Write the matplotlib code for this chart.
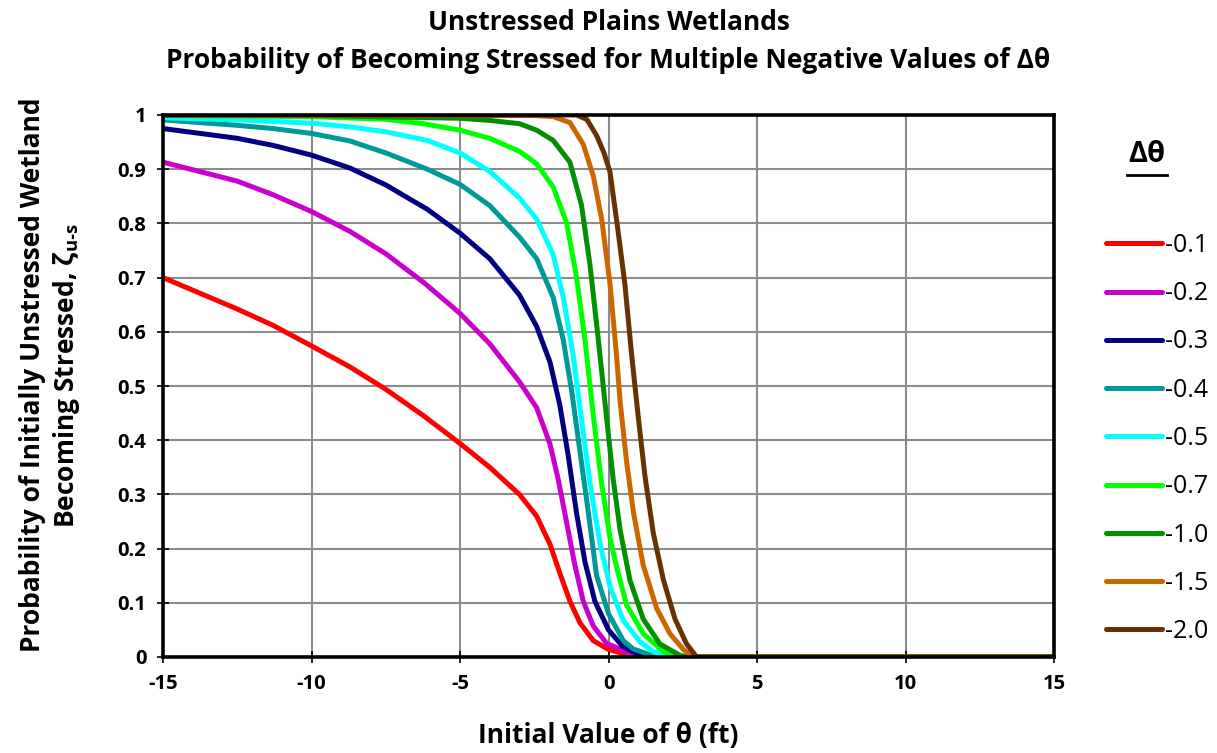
import numpy as np
import matplotlib
matplotlib.use("Agg")
import matplotlib.pyplot as plt
from matplotlib.lines import Line2D

plt.rcParams['font.family'] = ['Open Sans', 'DejaVu Sans']
plt.rcParams['mathtext.fontset'] = 'custom'
plt.rcParams['mathtext.rm'] = 'Open Sans:bold'
plt.rcParams['mathtext.bf'] = 'Open Sans:bold'
plt.rcParams['mathtext.default'] = 'bf'
plt.rcParams['axes.unicode_minus'] = False

# values
labels = ["-0.1", "-0.2", "-0.3", "-0.4", "-0.5", "-0.7", "-1.0", "-1.5", "-2.0"]
colors = ["#ff0000", "#cc00cc", "#000080", "#009999", "#00ffff",
          "#00ff00", "#009000", "#cc6600", "#663300"]

x_red = [-15, -12.5, -11.3, -10, -8.7, -7.5, -6.25, -5, -4, -3, -2.42, -1.97, -1.64, -1.30, -0.96, -0.51, 0, 0.5, 1.0, 2.0, 15]
y_red = [0.70, 0.642, 0.612, 0.574, 0.535, 0.494, 0.446, 0.394, 0.350, 0.30, 0.26, 0.208, 0.155, 0.103, 0.063, 0.03, 0.014, 0.006, 0.002, 0.0, 0.0]

x_mag = [-15, -12.5, -11.3, -10, -8.7, -7.5, -6.2, -5, -4, -3, -2.42, -1.97, -1.69, -1.41, -1.13, -0.85, -0.51, -0.06, 0.72, 1.5, 15]
y_mag = [0.913, 0.878, 0.853, 0.822, 0.785, 0.744, 0.690, 0.634, 0.578, 0.508, 0.46, 0.393, 0.327, 0.248, 0.169, 0.103, 0.057, 0.025, 0.007, 0.0, 0.0]

x_nav = [-15, -12.5, -11.3, -10, -8.7, -7.5, -6.1, -5, -4, -3, -2.42, -1.97, -1.64, -1.36, -1.08, -0.79, -0.46, 0, 0.5, 1.0, 1.62, 2.2, 15]
y_nav = [0.975, 0.957, 0.944, 0.926, 0.902, 0.871, 0.826, 0.782, 0.735, 0.668, 0.61, 0.544, 0.465, 0.373, 0.267, 0.175, 0.103, 0.05, 0.018, 0.006, 0.002, 0.0, 0.0]

x_tea = [-15, -12.5, -11.3, -10, -8.7, -7.5, -6.1, -5, -4, -3, -2.42, -1.86, -1.52, -1.24, -0.96, -0.68, -0.40, 0, 0.5, 0.83, 1.4, 1.96, 15]
y_tea = [0.991, 0.981, 0.975, 0.966, 0.952, 0.930, 0.900, 0.872, 0.833, 0.775, 0.735, 0.663, 0.584, 0.491, 0.379, 0.267, 0.15, 0.08, 0.03, 0.015, 0.004, 0.0, 0.0]

x_cya = [-15, -12.5, -10, -8.7, -7.5, -6.1, -5, -4, -3, -2.42, -1.86, -1.52, -1.19, -0.91, -0.62, -0.29, 0.05, 0.5, 1.06, 1.5, 2.07, 15]
y_cya = [0.995, 0.991, 0.985, 0.978, 0.969, 0.953, 0.930, 0.896, 0.847, 0.808, 0.742, 0.663, 0.557, 0.439, 0.32, 0.21, 0.13, 0.067, 0.028, 0.01, 0.0, 0.0]

x_lim = [-15, -10, -7.5, -6.25, -5, -4, -3, -2.42, -1.86, -1.41, -1.08, -0.79, -0.51, -0.23, 0.05, 0.3, 0.61, 1.17, 1.85, 2.41, 15]
y_lim = [0.999, 0.997, 0.992, 0.984, 0.972, 0.957, 0.933, 0.91, 0.867, 0.801, 0.702, 0.584, 0.445, 0.32, 0.22, 0.16, 0.096, 0.043, 0.01, 0.0, 0.0]

x_grn = [-15, -10, -5, -4, -3, -2.42, -1.86, -1.30, -0.91, -0.62, -0.34, -0.06, 0.16, 0.39, 0.72, 1.17, 1.73, 2.41, 2.7, 15]
y_grn = [1.0, 0.999, 0.994, 0.99, 0.984, 0.972, 0.953, 0.913, 0.834, 0.722, 0.584, 0.439, 0.327, 0.235, 0.142, 0.07, 0.024, 0.003, 0.0, 0.0]

x_org = [-15, -2.5, -1.86, -1.30, -0.85, -0.51, -0.23, 0.05, 0.27, 0.39, 0.61, 0.84, 1.17, 1.62, 2.07, 2.52, 2.86, 15]
y_org = [1.0, 0.999, 0.997, 0.986, 0.946, 0.887, 0.808, 0.689, 0.557, 0.472, 0.36, 0.267, 0.169, 0.09, 0.043, 0.014, 0.0, 0.0]

x_brn = [-15, -1.08, -0.73, -0.40, -0.15, 0.05, 0.3, 0.55, 0.78, 1.01, 1.23, 1.51, 1.85, 2.24, 2.63, 2.97, 15]
y_brn = [1.0, 1.0, 0.992, 0.962, 0.93, 0.895, 0.795, 0.689, 0.557, 0.439, 0.333, 0.228, 0.142, 0.07, 0.024, 0.0, 0.0]

xs = [x_red, x_mag, x_nav, x_tea, x_cya, x_lim, x_grn, x_org, x_brn]
ys = [y_red, y_mag, y_nav, y_tea, y_cya, y_lim, y_grn, y_org, y_brn]

fig = plt.figure(figsize=(12.17, 7.53), dpi=100)
ax = fig.add_axes([163/1217, 1 - 657/753, (1054-163)/1217, (657-115)/753])

for x, y, c, lab in zip(xs, ys, colors, labels):
    ax.plot(x, y, color=c, linewidth=3.6, label=lab,
            solid_capstyle='round', solid_joinstyle='round')

ax.set_xlim(-15, 15)
ax.set_ylim(0, 1)
ax.set_xticks(np.arange(-15, 16, 5))
ax.set_yticks(np.arange(0, 1.01, 0.1))
ax.set_yticklabels(["0", "0.1", "0.2", "0.3", "0.4", "0.5", "0.6", "0.7", "0.8", "0.9", "1"])
for lbl in ax.get_xticklabels() + ax.get_yticklabels():
    lbl.set_fontweight('bold')
    lbl.set_fontsize(14.5)
ax.tick_params(direction='inout', length=8, width=1.2, color='black', pad=8)

ax.grid(True, color='#8c8c8c', linewidth=1.5)
ax.set_axisbelow(True)
for s in ax.spines.values():
    s.set_linewidth(2.6)
    s.set_color('black')
    s.set_zorder(5)

ax.set_xlabel("Initial Value of θ (ft)", fontsize=19, fontweight='bold')
ax.xaxis.set_label_coords(0.5, (657 - 722) / 542)
ax.set_ylabel("Probability of Initially Unstressed Wetland\nBecoming Stressed, ζ$_{u\u2010s}$",
              fontsize=19, fontweight='bold', linespacing=1.2)
ax.yaxis.set_label_coords((82 - 163) / 891, 0.52)

cx = 0.5 * (163 + 1054) / 1217
fig.text(cx, 1 - 22/753, "Unstressed Plains Wetlands",
         ha='center', va='center', fontsize=19, fontweight='bold')
fig.text(cx, 1 - 60/753,
         "Probability of Becoming Stressed for Multiple Negative Values of Δθ",
         ha='center', va='center', fontsize=19, fontweight='bold')

# legend title, underlined
fig.text(1147/1217, 1 - 155/753, "Δθ", ha='center', va='center', fontsize=21, fontweight='bold')
fig.add_artist(Line2D([1127/1217, 1167/1217], [1 - 175/753, 1 - 175/753],
                      color='black', linewidth=2))

leg = ax.legend(loc='upper left', bbox_to_anchor=(1106/1217, 1 - 233/753),
                bbox_transform=fig.transFigure, frameon=False, fontsize=18,
                handlelength=2.24, handletextpad=0.1, labelspacing=0.93,
                borderaxespad=0, borderpad=0)

fig.savefig("out.png", dpi=100)
